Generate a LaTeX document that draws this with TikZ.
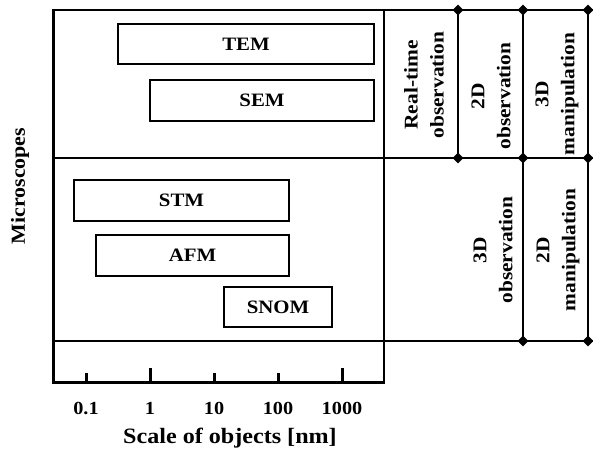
\documentclass[tikz,border=0pt]{standalone}
\usepackage{fontspec}
\setmainfont{Liberation Serif}[FakeStretch=1.1]
\usetikzlibrary{shapes.geometric}
\tikzset{
  frame/.style={line width=2bp},
  axisline/.style={line width=3bp},
  tickmark/.style={line width=3bp},
  scopebox/.style={draw,line width=1.5bp,inner sep=0pt,minimum height=40bp,
                   font=\fontsize{19}{22}\selectfont\bfseries},
  colhead/.style={rotate=90,align=center,font=\fontsize{19.5}{26}\selectfont\bfseries},
  ticklbl/.style={font=\fontsize{18.5}{22}\selectfont\bfseries},
  axlbl/.style={font=\fontsize{22}{26}\selectfont\bfseries},
  joint/.style={diamond,fill,inner sep=0pt,minimum size=11bp},
}
\begin{document}
\begin{tikzpicture}[x=1bp,y=-1bp]
  \useasboundingbox (0,0) rectangle (593,451);
  % ---- frame ----
  \draw[frame] (52,10) -- (593,10);
  \draw[frame] (53,158) -- (593,158);
  \draw[frame] (53,341) -- (593,341);
  \draw[frame] (384,10) -- (384,383);
  \draw[axisline] (53,9) -- (53,382) -- (385,382);
  % ---- ticks and scale ----
  \foreach \x/\h/\v/\n in {86/9/0.1/a,150/14/1/b,214/9/10/c,278/9/100/d,342/14/1000/e} {
    \draw[tickmark] (\x,382) -- (\x,382-\h);
    \node[ticklbl] (tick\n) at (\x,408) {\v};
  }
  \node[axlbl] (xlabel) at (230,438) {Scale of objects [nm]};
  \node[axlbl,rotate=90,font=\fontsize{20}{24}\selectfont\bfseries] (ylabel) at (20,186) {Microscopes};
  % ---- microscopes ----
  \node[scopebox,minimum width=256bp] (tem) at (246,44) {TEM};
  \node[scopebox,minimum width=224bp,minimum height=41bp] (sem) at (262,100.5) {SEM};
  \node[scopebox,minimum width=215bp,minimum height=41bp] (stm) at (181.5,200.5) {STM};
  \node[scopebox,minimum width=193bp,minimum height=41bp] (afm) at (192.5,255.5) {AFM};
  \node[scopebox,minimum width=108bp] (snom) at (278,307) {SNOM};
  % ---- capabilities ----
  \node[joint] (jA1) at (458,10) {};
  \node[joint] (jA2) at (458,158) {};
  \node[joint] (jB1) at (523,10) {};
  \node[joint] (jB2) at (523,158) {};
  \node[joint] (jB3) at (523,341) {};
  \node[joint] (jC1) at (588,10) {};
  \node[joint] (jC2) at (588,158) {};
  \node[joint] (jC3) at (588,341) {};
  \draw[frame] (jA1.center) -- (jA2.center);
  \draw[frame] (jB1.center) -- (jB2.center) -- (jB3.center);
  \draw[frame] (jC1.center) -- (jC2.center) -- (jC3.center);
  \node[colhead] (realtime) at (424,85) {Real-time\\observation};
  \node[colhead] (obs2d) at (491,96) {2D\\observation};
  \node[colhead] (man3d) at (557,94) {3D\\manipulation};
  \node[colhead] (obs3d) at (493,250) {3D\\observation};
  \node[colhead] (man2d) at (558,250) {2D\\manipulation};
\end{tikzpicture}
\end{document}
